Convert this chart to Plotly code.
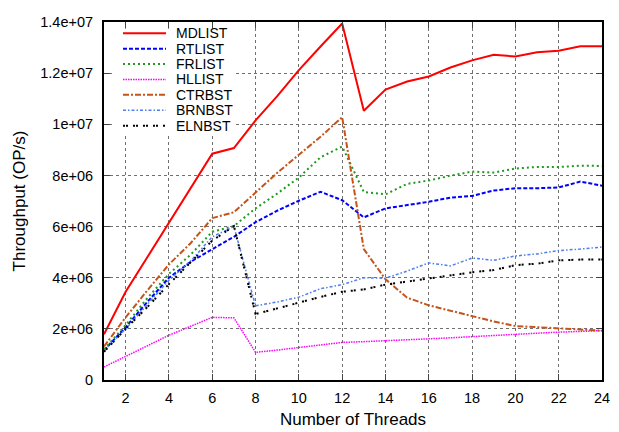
import plotly.graph_objects as go

threads = list(range(1, 25))

MDLIST = [1.79, 3.45, 4.8, 6.14, 7.5, 8.85, 9.07, 10.15, 11.1, 12.12, 13.04, 13.94,
          10.53, 11.36, 11.67, 11.87, 12.22, 12.5, 12.72, 12.65, 12.82, 12.88, 13.05, 13.05]
RTLIST = [1.16, 2.07, 3.05, 4.0, 4.62, 5.12, 5.6, 6.17, 6.62, 7.01, 7.36, 7.03,
          6.36, 6.71, 6.84, 6.97, 7.13, 7.2, 7.41, 7.5, 7.5, 7.53, 7.76, 7.6]
FRLIST = [1.2, 2.15, 3.2, 4.15, 4.9, 5.8, 6.02, 6.71, 7.29, 7.92, 8.71, 9.13,
          7.35, 7.26, 7.67, 7.8, 7.99, 8.15, 8.11, 8.27, 8.33, 8.33, 8.38, 8.37]
HLLIST = [0.51, 0.93, 1.35, 1.75, 2.1, 2.45, 2.43, 1.08, 1.17, 1.27, 1.37, 1.47,
          1.5, 1.53, 1.57, 1.61, 1.65, 1.7, 1.75, 1.8, 1.83, 1.87, 1.9, 1.93]
CTRBST = [1.31, 2.45, 3.5, 4.52, 5.35, 6.33, 6.56, 7.35, 8.1, 8.81, 9.51, 10.28,
          5.12, 3.94, 3.22, 2.92, 2.71, 2.49, 2.29, 2.11, 2.07, 2.03, 1.98, 1.93]
BRNBST = [1.15, 2.0, 2.95, 3.9, 4.65, 5.6, 6.0, 2.9, 3.05, 3.24, 3.57, 3.73,
          4.0, 3.98, 4.26, 4.58, 4.46, 4.77, 4.68, 4.85, 4.93, 5.06, 5.12, 5.2]
ELNBST = [1.1, 2.0, 2.85, 3.75, 4.6, 5.45, 6.02, 2.58, 2.8, 3.03, 3.25, 3.45,
          3.54, 3.73, 3.85, 3.98, 4.1, 4.21, 4.3, 4.49, 4.55, 4.68, 4.71, 4.71]

series_names = ["MDLIST", "RTLIST", "FRLIST", "HLLIST", "CTRBST", "BRNBST", "ELNBST"]
series_values = [MDLIST, RTLIST, FRLIST, HLLIST, CTRBST, BRNBST, ELNBST]

x_tick_vals = list(range(2, 25, 2))
y_tick_vals = [0, 2e6, 4e6, 6e6, 8e6, 1e7, 1.2e7, 1.4e7]
y_tick_text = ["0", "2e+06", "4e+06", "6e+06", "8e+06", "1e+07", "1.2e+07", "1.4e+07"]

styles = [
    dict(color="#ff0000", dash="solid", width=2),
    dict(color="#0000ff", dash="4px,2px", width=2),
    dict(color="#1f9a1f", dash="2px,3px", width=2),
    dict(color="#ff00ff", dash="1.5px,1px", width=1.5),
    dict(color="#c4541a", dash="6px,2px,2px,2px", width=2),
    dict(color="#4f7fef", dash="3px,2px,1.5px,2px", width=1.5),
    dict(color="#000000", dash="2px,1px,2px,5px", width=2),
]

FONT = "Liberation Sans, Arial, Helvetica, sans-serif"

fig = go.Figure()
for name, vals, st in zip(series_names, series_values, styles):
    fig.add_trace(go.Scatter(
        x=threads, y=[v * 1e6 for v in vals], mode="lines", name=name,
        line=dict(color=st["color"], dash=st["dash"], width=st["width"]),
        showlegend=False,
    ))

# page has an 8px body margin; figure is sized to fit inside the window
OFF = 8
W, H = 619 - OFF, 432 - OFF
L, R, T, B = 104 - OFF, 602 - OFF, 14 - OFF, 381 - OFF

def px(x):
    return (x - OFF - L) / (R - L)

def py(y):
    return (B - (y - OFF)) / (B - T)

shapes = [dict(type="rect", xref="paper", yref="paper", layer="above",
               x0=px(112), x1=px(233), y0=py(128), y1=py(21),
               fillcolor="white", line=dict(width=0))]
annotations = []
for i, (name, st) in enumerate(zip(series_names, styles)):
    yc = 25.5 + i * 15.8
    shapes.append(dict(type="line", xref="paper", yref="paper", layer="above",
                       x0=px(123), x1=px(166), y0=py(yc), y1=py(yc),
                       line=dict(color=st["color"], dash=st["dash"], width=st["width"])))
    annotations.append(dict(xref="paper", yref="paper", x=px(175), y=py(yc),
                            xanchor="left", yanchor="middle", text=name, showarrow=False,
                            borderpad=0,
                            font=dict(family=FONT, size=14, color="black")))

fig.update_layout(
    width=W, height=H,
    margin=dict(l=L, r=W - R, t=T, b=H - B),
    paper_bgcolor="white", plot_bgcolor="white",
    font=dict(family=FONT, size=14.5, color="black"),
    shapes=shapes, annotations=annotations,
    showlegend=False,
)
fig.update_xaxes(
    range=[1, 24], tickvals=x_tick_vals, ticks="inside", ticklen=6, tickwidth=1,
    showline=True, linewidth=2, linecolor="black", mirror="ticks",
    showgrid=True, gridcolor="#707070", griddash="dot", gridwidth=1,
    zeroline=False, ticklabelstandoff=4,
    title=dict(text="Number of Threads", standoff=8),
)
fig.update_yaxes(
    range=[0, 1.4e7], tickvals=y_tick_vals, ticktext=y_tick_text,
    ticks="inside", ticklen=6, tickwidth=1,
    showline=True, linewidth=2, linecolor="black", mirror="ticks",
    showgrid=True, gridcolor="#707070", griddash="dot", gridwidth=1,
    zeroline=False, ticklabelstandoff=6,
    title=dict(text="Throughput (OP/s)", standoff=10),
)

fig.write_html("out.html")
